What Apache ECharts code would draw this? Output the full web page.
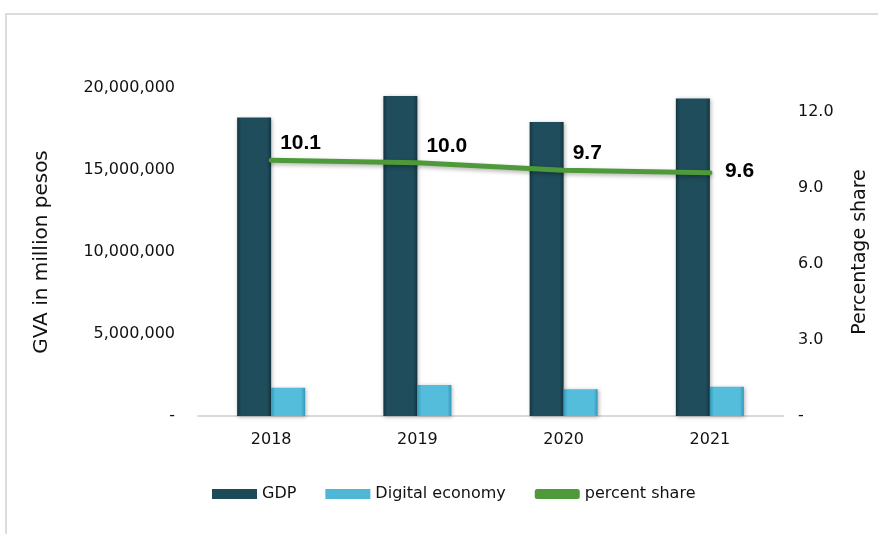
<!DOCTYPE html>
<html>
<head>
<meta charset="utf-8">
<script src="https://cdn.jsdelivr.net/npm/echarts@6/dist/echarts.min.js"></script>
<style>html,body{margin:0;padding:0;background:#fff;}#c{width:878px;height:534px;}</style>
</head>
<body>
<div id="c"></div>
<script>
const categories = ['2018', '2019', '2020', '2021'];
const gdp = [18200000, 19510000, 17930000, 19360000];
const digitalEconomy = [1730000, 1890000, 1630000, 1790000];
const percentShare = [10.1, 10.0, 9.7, 9.6];

const FONT = 'DejaVu Sans, Liberation Sans, sans-serif';
const BOLD = 'Liberation Sans, Arial, sans-serif';
const chart = echarts.init(document.getElementById('c'));

function grad(edge, mid) {
  return new echarts.graphic.LinearGradient(0, 0, 1, 0, [
    {offset: 0, color: edge}, {offset: 0.12, color: mid}, {offset: 0.88, color: mid}, {offset: 1, color: edge}
  ]);
}

chart.setOption({
  animation: false,
  textStyle: {fontFamily: FONT},
  graphic: [{
    type: 'rect', shape: {x: 6, y: 14, width: 900, height: 600},
    style: {fill: 'none', stroke: '#dcdcdc', lineWidth: 2}, silent: true
  }],
  grid: {left: 198, right: 93, top: 88, bottom: 118},
  legend: {
    left: 212, top: 486, padding: 0, itemWidth: 45, itemHeight: 10, itemGap: 29,
    textStyle: {fontFamily: FONT, fontSize: 16, color: '#111', padding: [0, 0, 0, 0]},
    data: [
      {name: 'GDP', icon: 'rect', itemStyle: {color: '#1d4a57'}},
      {name: 'Digital economy', icon: 'rect', itemStyle: {color: '#4fb6d6'}},
      {name: 'percent share', icon: 'roundRect', itemStyle: {color: '#4e9a3a', opacity: 1}}
    ]
  },
  xAxis: {
    type: 'category', data: categories,
    axisLine: {lineStyle: {color: '#d9d9d9', width: 2}},
    axisTick: {show: false},
    axisLabel: {fontFamily: FONT, fontSize: 16, color: '#111', margin: 16}
  },
  yAxis: [{
    type: 'value', min: 0, max: 20000000, interval: 5000000,
    name: 'GVA in million pesos', nameLocation: 'middle', nameGap: 146, nameRotate: 90,
    nameTextStyle: {fontFamily: FONT, fontSize: 20, color: '#111'},
    splitLine: {show: false}, axisLine: {show: false}, axisTick: {show: false},
    axisLabel: {fontFamily: FONT, fontSize: 16, color: '#111', margin: 23,
      formatter: v => v === 0 ? '-' : v.toLocaleString('en-US')}
  }, {
    type: 'value', min: 0, max: 12.95, interval: 3,
    name: 'Percentage share', nameLocation: 'middle', nameGap: 68, nameRotate: 90,
    nameTextStyle: {fontFamily: FONT, fontSize: 19, color: '#111'},
    splitLine: {show: false}, axisLine: {show: false}, axisTick: {show: false},
    axisLabel: {fontFamily: FONT, fontSize: 16, color: '#111', margin: 15, showMaxLabel: false,
      formatter: v => v === 0 ? '-' : (Math.abs(v % 3) < 1e-9 ? v.toFixed(1) : '')}
  }],
  series: [{
    name: 'GDP', type: 'bar', data: gdp, barWidth: 34, barGap: '0%',
    itemStyle: {color: grad('#133541', '#1f4d5b'), shadowColor: 'rgba(0,0,0,0.3)', shadowBlur: 4, shadowOffsetX: 1, shadowOffsetY: 1}
  }, {
    name: 'Digital economy', type: 'bar', data: digitalEconomy, barWidth: 34,
    itemStyle: {color: grad('#3597ba', '#55bddc'), shadowColor: 'rgba(0,0,0,0.3)', shadowBlur: 4, shadowOffsetX: 1, shadowOffsetY: 1}
  }, {
    name: 'percent share', type: 'line', yAxisIndex: 1, data: percentShare,
    symbol: 'circle', symbolSize: 2, showSymbol: true,
    itemStyle: {color: '#4e9a3a'},
    lineStyle: {color: '#4e9a3a', width: 5, cap: 'round', shadowColor: 'rgba(0,0,0,0.3)', shadowBlur: 4, shadowOffsetY: 2},
    label: {show: true, position: 'right', fontFamily: BOLD, fontSize: 21, fontWeight: 'bold', color: '#000',
      formatter: p => Number(p.value).toFixed(1)},
    labelLayout: function (p) {
      const last = p.dataIndex === percentShare.length - 1;
      return {dx: last ? 9 : 3, dy: last ? -2 : -17, hideOverlap: false};
    },
    z: 5
  }]
});
</script>
</body>
</html>
